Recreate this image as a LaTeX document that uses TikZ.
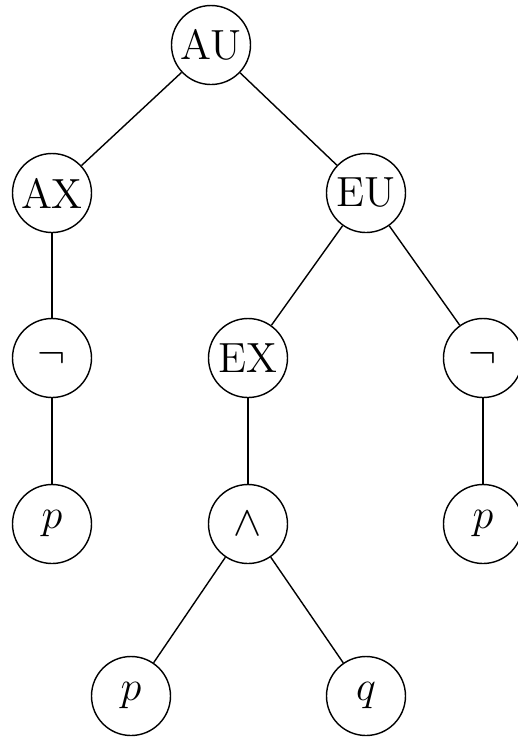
\documentclass[tikz,border=0pt]{standalone}
\begin{document}
\begin{tikzpicture}[vertex/.style={draw, circle, minimum size=0.79cm, inner sep=0pt, font=\large}]
        \useasboundingbox (0, 0) rectangle (5.18, -7.38);
        \node[vertex] (au) at (2.11, -0.45) {AU};
        \node[vertex] (ax) at (0.52, -1.93) {AX};
        \node[vertex] (eu) at (3.66, -1.93) {EU};

        \node[vertex] (notl) at (0.52, -3.58) {$\neg$};
        \node[vertex] (ex) at (2.48, -3.58) {EX};
        \node[vertex] (notr) at (4.83, -3.58) {$\neg$};

        \node[vertex] (pl) at (0.52, -5.24) {$p$};
        \node[vertex] (and) at (2.48, -5.24) {$\wedge$};
        \node[vertex] (pr) at (4.83, -5.24) {$p$};

        \node[vertex] (pb) at (1.31, -6.96) {$p$};
        \node[vertex] (q) at (3.66, -6.96) {$q$};

        \draw[-](au)--(ax);
        \draw[-](au)--(eu);
        \draw[-](ax)--(notl);
        \draw[-](notl)--(pl);
        \draw[-](eu)--(ex);
        \draw[-](eu)--(notr);
        \draw[-](ex)--(and);
        \draw[-](notr)--(pr);
        \draw[-](and)--(pb);
        \draw[-](and)--(q);
    \end{tikzpicture}
\end{document}
